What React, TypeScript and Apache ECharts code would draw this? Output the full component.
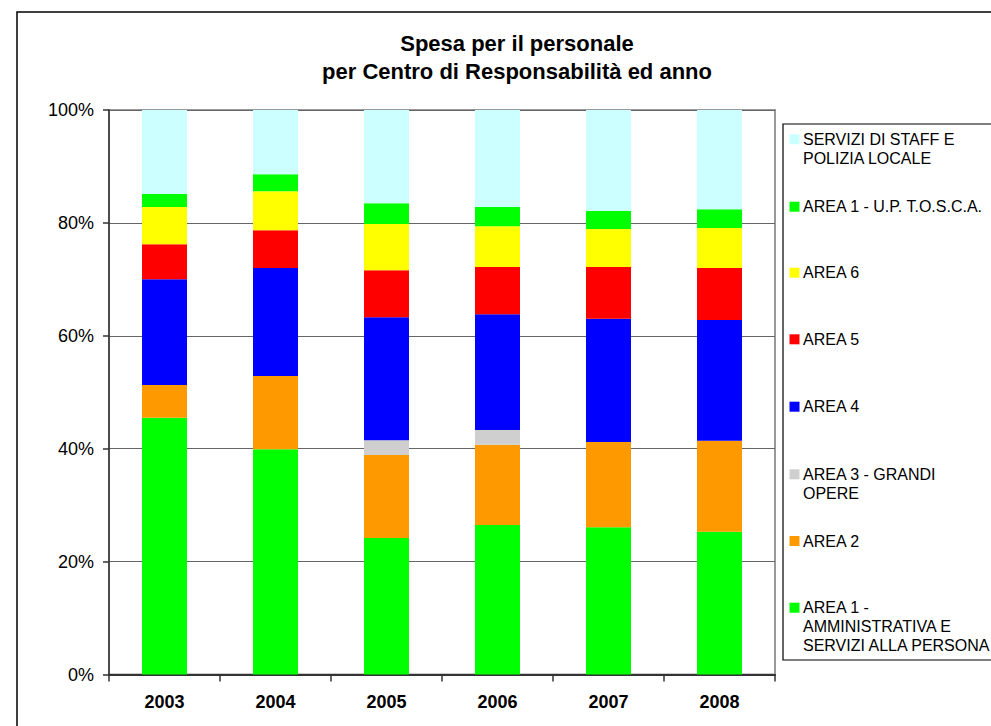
import React, { useEffect, useRef } from "react";
import * as echarts from "echarts";

const years = ["2003", "2004", "2005", "2006", "2007", "2008"];
const seriesNames = [
  "AREA 1 - AMMINISTRATIVA E SERVIZI ALLA PERSONA",
  "AREA 2",
  "AREA 3 - GRANDI OPERE",
  "AREA 4",
  "AREA 5",
  "AREA 6",
  "AREA 1 - U.P. T.O.S.C.A.",
  "SERVIZI DI STAFF E POLIZIA LOCALE",
];
const legendLabels = [
  "AREA 1 -\nAMMINISTRATIVA E\nSERVIZI ALLA PERSONA",
  "AREA 2",
  "AREA 3 - GRANDI\nOPERE",
  "AREA 4",
  "AREA 5",
  "AREA 6",
  "AREA 1 - U.P. T.O.S.C.A.",
  "SERVIZI DI STAFF E\nPOLIZIA LOCALE",
];
const area1Admin = [45.5, 39.9, 24.2, 26.5, 26.1, 25.3];
const area2 = [5.8, 13.0, 14.7, 14.2, 15.1, 16.1];
const area3 = [0, 0, 2.6, 2.6, 0, 0];
const area4 = [18.7, 19.1, 21.8, 20.5, 21.8, 21.4];
const area5 = [6.2, 6.7, 8.3, 8.4, 9.2, 9.2];
const area6 = [6.6, 6.9, 8.2, 7.2, 6.7, 7.1];
const area1Tosca = [2.3, 3.0, 3.7, 3.4, 3.2, 3.3];
const serviziStaff = [14.9, 11.4, 16.5, 17.2, 17.9, 17.6];
const yTicks = [0, 20, 40, 60, 80, 100];

const seriesData = [area1Admin, area2, area3, area4, area5, area6, area1Tosca, serviziStaff];
const colors = ["#00FF00", "#FF9900", "#CFCFCF", "#0000FF", "#FF0000", "#FFFF00", "#00FF00", "#CCFFFF"];

const FONT = "'Liberation Sans', Arial, Helvetica, sans-serif";

export default function App() {
  const ref = useRef<HTMLDivElement>(null);
  useEffect(() => {
    if (!ref.current) return;
    const chart = echarts.init(ref.current, null, { renderer: "svg" });

    const legendGraphics: any[] = [];
    const firstLineY = [607.7, 541, 474.3, 406.7, 339.3, 272.7, 206.7, 139.3];
    for (let i = seriesNames.length - 1; i >= 0; i--) {
      const cy = firstLineY[i];
      legendGraphics.push({
        type: "rect",
        shape: { x: 789.5, y: cy - 5, width: 10, height: 10 },
        style: { fill: colors[i] },
        silent: true,
      });
      legendGraphics.push({
        type: "text",
        x: 803,
        y: cy - 9.5,
        style: {
          text: legendLabels[i],
          font: `16px ${FONT}`,
          fill: "#000",
          lineHeight: 19,
          verticalAlign: "top",
          align: "left",
        },
        silent: true,
      });
    }

    chart.setOption({
      animation: false,
      backgroundColor: "#fff",
      title: {
        text: "Spesa per il personale\nper Centro di Responsabilità ed anno",
        left: 512,
        textAlign: "center",
        top: 24,
        textStyle: {
          fontFamily: FONT,
          fontWeight: "bold",
          fontSize: 22,
          lineHeight: 28,
          color: "#000",
        },
      },
      grid: {
        left: 109,
        top: 110,
        right: 216,
        bottom: 51.5,
        show: true,
        borderColor: "#999",
        borderWidth: 2,
        backgroundColor: "#fff",
      },
      xAxis: {
        type: "category",
        data: years,
        axisLine: { lineStyle: { color: "#333", width: 2 } },
        axisTick: { show: true, alignWithLabel: false, length: 7, lineStyle: { color: "#333", width: 1.5 } },
        axisLabel: {
          margin: 18,
          fontFamily: FONT,
          fontWeight: "bold",
          fontSize: 18,
          color: "#000",
        },
      },
      yAxis: {
        type: "value",
        min: 0,
        max: 100,
        interval: 20,
        axisLine: { show: true, lineStyle: { color: "#333", width: 1.5 } },
        axisTick: { show: true, length: 6, lineStyle: { color: "#333", width: 1.5 } },
        axisLabel: {
          margin: 15,
          formatter: (v: number) => (yTicks.includes(v) ? `${v}%` : ""),
          fontFamily: FONT,
          fontSize: 18,
          color: "#000",
        },
        splitLine: { lineStyle: { color: "#666", width: 1.2 } },
      },
      series: seriesNames.map((name, i) => ({
        name,
        type: "bar",
        stack: "total",
        barWidth: 45,
        data: seriesData[i],
        itemStyle: { color: colors[i] },
      })),
      graphic: [
        {
          type: "rect",
          shape: { x: 17, y: 12, width: 1100, height: 900 },
          style: { fill: "none", stroke: "#000", lineWidth: 1.5 },
          silent: true,
          z: -1,
        },
        {
          type: "rect",
          shape: { x: 783, y: 124, width: 400, height: 536 },
          style: { fill: "#fff", stroke: "#000", lineWidth: 1.2 },
          silent: true,
        },
        ...legendGraphics,
      ],
    });
    return () => chart.dispose();
  }, []);
  return (
    <div
      ref={ref}
      style={{ position: "absolute", left: 0, top: 0, width: 991, height: 726 }}
    />
  );
}
